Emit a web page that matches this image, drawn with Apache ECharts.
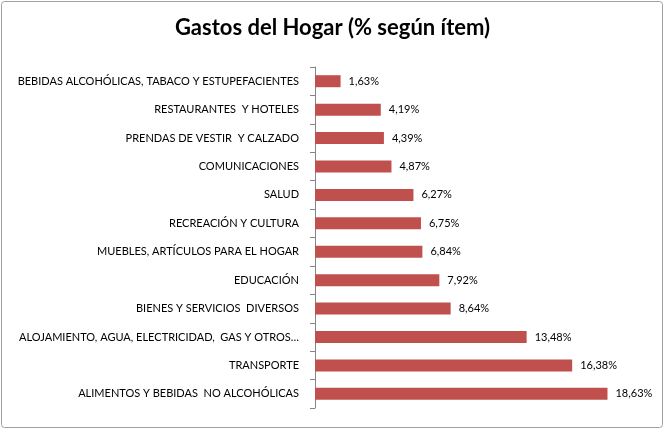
<!DOCTYPE html>
<html><head><meta charset="utf-8">
<script src="https://cdn.jsdelivr.net/npm/echarts@6/dist/echarts.min.js"></script>
<style>html,body{margin:0;padding:0;background:#fff}#c{width:665px;height:431px}</style>
</head><body><div id="c"></div>
<script>
const categories = [
  "ALIMENTOS Y BEBIDAS  NO ALCOHÓLICAS",
  "TRANSPORTE",
  "ALOJAMIENTO, AGUA, ELECTRICIDAD,  GAS Y OTROS…",
  "BIENES Y SERVICIOS  DIVERSOS",
  "EDUCACIÓN",
  "MUEBLES, ARTÍCULOS PARA EL HOGAR",
  "RECREACIÓN Y CULTURA",
  "SALUD",
  "COMUNICACIONES",
  "PRENDAS DE VESTIR  Y CALZADO",
  "RESTAURANTES  Y HOTELES",
  "BEBIDAS ALCOHÓLICAS, TABACO Y ESTUPEFACIENTES"
];
const values = [18.63, 16.38, 13.48, 8.64, 7.92, 6.84, 6.75, 6.27, 4.87, 4.39, 4.19, 1.63];
const title = "Gastos del Hogar (% según ítem)";

const chart = echarts.init(document.getElementById('c'), null, {renderer: 'canvas'});
chart.setOption({
  animation: false,
  backgroundColor: '#fff',
  title: {
    text: title, left: 'center', top: 12,
    textStyle: {fontFamily: 'Lato', fontWeight: 'bold', fontSize: 22, color: '#000'}
  },
  graphic: [{
    type: 'rect', shape: {x: 1.5, y: 1.5, width: 661, height: 426, r: 3},
    style: {fill: 'none', stroke: '#a0a0a0', lineWidth: 1}, silent: true, z: -1
  }],
  grid: {left: 315, top: 67, width: 314, bottom: 23, containLabel: false},
  xAxis: {
    type: 'value', min: 0, max: 20, show: false
  },
  yAxis: {
    type: 'category', data: categories,
    axisLine: {show: true, lineStyle: {color: '#868686', width: 1}},
    axisTick: {show: true, length: 5, lineStyle: {color: '#868686'}},
    axisLabel: {fontFamily: 'Lato', fontSize: 11, color: '#000', margin: 16},
    splitLine: {show: false}
  },
  series: [{
    type: 'bar', data: values, barWidth: 12,
    itemStyle: {color: '#C0504D'},
    label: {
      show: true, position: 'right', distance: 8,
      fontFamily: 'Lato', fontSize: 11, color: '#000',
      formatter: p => p.value.toFixed(2).replace('.', ',') + '%'
    }
  }]
});
</script></body></html>
